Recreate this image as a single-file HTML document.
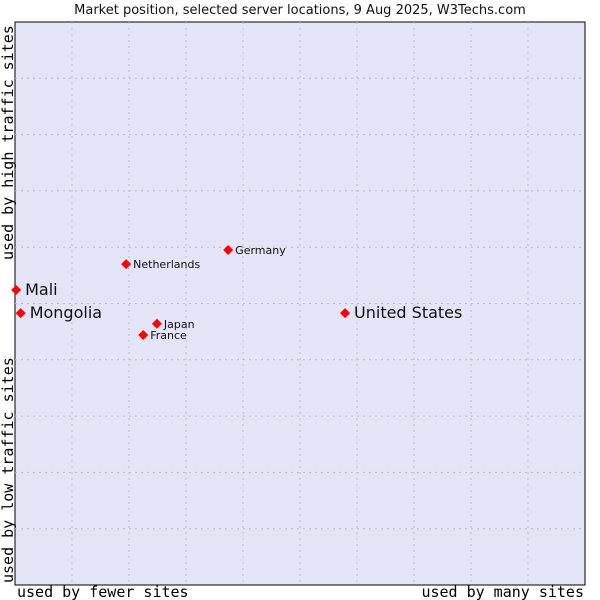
<!DOCTYPE html>
<html><head><meta charset="utf-8"><style>
body{margin:0;background:#fff;}
svg{display:block;font-family:"DejaVu Sans","Liberation Sans",sans-serif;}
</style></head><body>
<svg id="chart" width="600" height="600">
<text x="300" y="14" text-anchor="middle" font-size="13" fill="#111">Market position, selected server locations, 9 Aug 2025, W3Techs.com</text>
<rect x="15" y="22" width="570" height="563" fill="#e4e4f7" stroke="#000" stroke-width="1"/>
<g id="grid"></g>
<g id="points"></g>
<text x="17" y="597" font-family="DejaVu Sans Mono, Liberation Mono, monospace" font-size="15" fill="#000">used by fewer sites</text>
<text x="584" y="597" text-anchor="end" font-family="DejaVu Sans Mono, Liberation Mono, monospace" font-size="15" fill="#000">used by many sites</text>
<text transform="translate(13,583) rotate(-90)" font-family="DejaVu Sans Mono, Liberation Mono, monospace" font-size="15" fill="#000">used by low traffic sites</text>
<text transform="translate(13,260) rotate(-90)" font-family="DejaVu Sans Mono, Liberation Mono, monospace" font-size="15" fill="#000">used by high traffic sites</text>
</svg>
<script>
const names=["Mali","Mongolia","Netherlands","Germany","Japan","France","United States"];
const xVals=[0.02,0.1,1.95,3.74,2.49,2.25,5.79];
const yVals=[5.24,4.83,5.70,5.95,4.64,4.44,4.83];
const bigLabel=[true,true,false,false,false,false,true];
const NS="http://www.w3.org/2000/svg";
const L=15,R=585,T=22,B=585;
function sx(v){return L+(R-L)*v/10;}
function sy(v){return B-(B-T)*v/10;}
const grid=document.getElementById('grid');
for(let i=1;i<10;i++){
  const lx=document.createElementNS(NS,'line');
  lx.setAttribute('x1',sx(i));lx.setAttribute('x2',sx(i));lx.setAttribute('y1',T);lx.setAttribute('y2',B);
  lx.setAttribute('stroke','#bcbcbc');lx.setAttribute('stroke-dasharray','2,4');
  
  
  grid.appendChild(lx);
  const ly=document.createElementNS(NS,'line');
  ly.setAttribute('y1',sy(i));ly.setAttribute('y2',sy(i));ly.setAttribute('x1',L);ly.setAttribute('x2',R);
  ly.setAttribute('stroke','#bcbcbc');ly.setAttribute('stroke-dasharray','2,4');
  
  
  grid.appendChild(ly);
}
const pts=document.getElementById('points');
names.forEach((n,i)=>{
  const x=sx(xVals[i]),y=sy(yVals[i]);
  const p=document.createElementNS(NS,'path');
  p.setAttribute('d',`M${x} ${y-5}L${x+5} ${y}L${x} ${y+5}L${x-5} ${y}Z`);
  p.setAttribute('fill','#f00');
  
  
  pts.appendChild(p);
  const t=document.createElementNS(NS,'text');
  t.setAttribute('x',x+(bigLabel[i]?9:7));
  t.setAttribute('y',y+(bigLabel[i]?5:4));
  t.setAttribute('font-size',bigLabel[i]?16:11);
  t.setAttribute('fill','#111');
  t.textContent=n;
  
  
  pts.appendChild(t);
});
</script>
</body></html>
